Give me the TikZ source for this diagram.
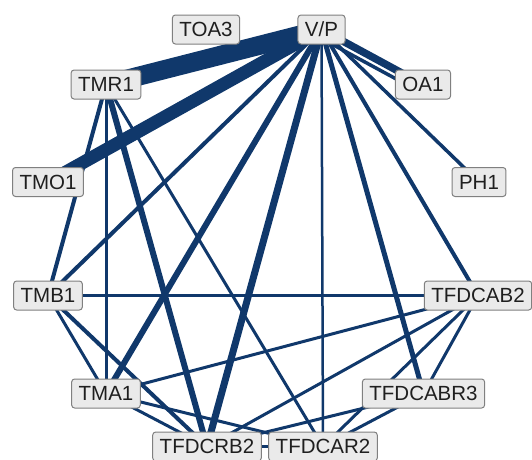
\documentclass[tikz,border=0pt]{standalone}
\usepackage{fontspec}
\setmainfont{Liberation Sans}
\usetikzlibrary{backgrounds}
\definecolor{edgeblue}{RGB}{16,56,107}
\definecolor{boxgray}{RGB}{234,234,234}
\definecolor{boxline}{RGB}{128,128,128}
\tikzset{
  var/.style={draw=boxline, fill=boxgray, line width=1pt, rounded corners=3pt,
    inner xsep=7pt, inner ysep=0pt, minimum height=29pt, text=black!88,
    font=\fontsize{20.5}{24}\selectfont},
  link/.style={draw=edgeblue, line width=#1}
}
\begin{document}
\begin{tikzpicture}[x=1pt, y=-1pt, line cap=butt]
  \useasboundingbox (0,0) rectangle (532,459);
  % variables on the ring
  \node[var] (toa3) at (206,29.5) {TOA3};
  \node[var] (vp) at (321.5,29.5) {V/P};
  \node[var] (oa1) at (423,84.5) {OA1};
  \node[var] (ph1) at (479,182) {PH1};
  \node[var] (tfdcab2) at (478,295.5) {TFDCAB2};
  \node[var] (tfdcabr3) at (423.5,393.5) {TFDCABR3};
  \node[var] (tfdcar2) at (323,446.5) {TFDCAR2};
  \node[var] (tfdcrb2) at (207,446.5) {TFDCRB2};
  \node[var] (tma1) at (106,393.5) {TMA1};
  \node[var] (tmb1) at (48,295.5) {TMB1};
  \node[var] (tmo1) at (48,182) {TMO1};
  \node[var] (tmr1) at (106,84.5) {TMR1};
  \begin{scope}[on background layer]
    % links from V/P
    \draw[link=19pt] (vp.center) -- (tmr1.center);
    \draw[link=13pt] (vp.center) -- (tmo1.center);
    \draw[link=7.5pt] (vp.center) -- (oa1.center);
    \draw[link=3.5pt] ([yshift=-9pt]vp.center) -- ([yshift=-9pt]oa1.center);
    \draw[link=3.5pt] (vp.center) -- (ph1.center);
    \draw[link=4pt] (vp.center) -- (tfdcab2.center);
    \draw[link=5pt] (vp.center) -- (tfdcabr3.center);
    \draw[link=2.5pt] (vp.center) -- (tfdcar2.center);
    \draw[link=7pt] (vp.center) -- (tfdcrb2.center);
    \draw[link=6pt] (vp.center) -- (tma1.center);
    \draw[link=4pt] (vp.center) -- (tmb1.center);
    % links from TMR1
    \draw[link=3pt] (tmr1.center) -- (tma1.center);
    \draw[link=4pt] (tmr1.center) -- (tmb1.center);
    \draw[link=6pt] (tmr1.center) -- (tfdcrb2.center);
    \draw[link=3pt] (tmr1.center) -- (tfdcar2.center);
    % lower ring
    \draw[link=2.5pt] (tmb1.center) -- (tfdcab2.center);
    \draw[link=3pt] (tmb1.center) -- (tma1.center);
    \draw[link=4pt] (tmb1.center) -- (tfdcrb2.center);
    \draw[link=3pt] (tma1.center) -- (tfdcab2.center);
    \draw[link=3pt] (tma1.center) -- (tfdcrb2.center);
    \draw[link=3pt] (tma1.center) -- (tfdcar2.center);
    \draw[link=3pt] (tfdcrb2.center) -- (tfdcab2.center);
    \draw[link=3pt] (tfdcrb2.center) -- (tfdcabr3.center);
    \draw[link=2.5pt] (tfdcrb2.center) -- (tfdcar2.center);
    \draw[link=3pt] (tfdcabr3.center) -- (tfdcar2.center);
    \draw[link=3pt] (tfdcab2.center) -- (tfdcar2.center);
    \draw[link=3pt] (tfdcab2.center) -- (tfdcabr3.center);
  \end{scope}
\end{tikzpicture}
\end{document}
